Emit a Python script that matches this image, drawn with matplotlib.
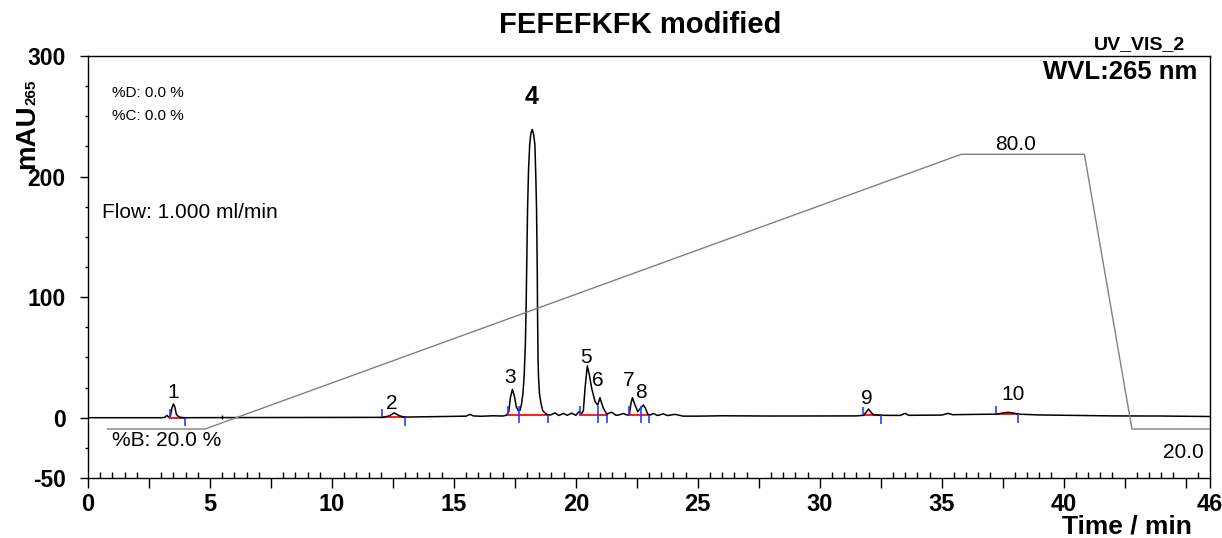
import matplotlib.pyplot as plt
import matplotlib.ticker as ticker

plt.rcParams['font.family'] = ['Liberation Sans', 'DejaVu Sans']

# chromatogram trace (time in min, signal in mAU)
time = [0.0, 3.0, 3.15, 3.24, 3.3, 3.38, 3.44, 3.5, 3.56, 3.62, 3.7, 3.8, 3.95,
        5.5, 10.0, 12.1, 12.35, 12.55, 12.75, 12.95, 14.0, 15.0, 15.5, 15.66, 15.8,
        16.1, 16.6, 17.0, 17.15, 17.25, 17.32, 17.4, 17.48, 17.56, 17.65, 17.71,
        17.78, 17.83, 17.88, 17.93, 17.96, 17.99, 18.02, 18.06, 18.11, 18.16, 18.21,
        18.26, 18.32, 18.36, 18.39, 18.42, 18.43, 18.45, 18.47, 18.51, 18.57, 18.64,
        18.71, 18.8, 18.95, 19.15, 19.3, 19.49, 19.65, 19.83, 20.0, 20.13, 20.25,
        20.31, 20.38, 20.47, 20.55, 20.65, 20.79, 20.9, 20.99, 21.06, 21.13, 21.27,
        21.47, 21.65, 21.8, 21.95, 22.1, 22.2, 22.26, 22.32, 22.4, 22.54, 22.65,
        22.77, 22.85, 22.95, 23.05, 23.18, 23.35, 23.59, 23.75, 24.07, 24.4, 25.0,
        26.0, 27.0, 28.0, 30.0, 31.5, 31.8, 31.9, 32.0, 32.1, 32.2, 32.5, 33.3,
        33.5, 33.65, 35.0, 35.27, 35.45, 36.5, 37.2, 37.5, 37.73, 37.95, 38.2,
        39.0, 40.4, 42.0, 44.0, 46.0]
signal = [0.0, 0.0, 0.3, 2.0, 0.5, 1.5, 8.0, 11.4, 9.0, 3.0, 1.0, 0.3, 0.0,
          0.1, 0.2, 0.3, 1.5, 4.0, 1.8, 0.5, 0.8, 1.0, 1.3, 2.8, 1.5,
          1.2, 1.6, 1.4, 2.0, 5.0, 17.0, 23.5, 18.0, 9.0, 5.6, 6.0,
          12.0, 20.0, 34.0, 60.0, 89.0, 130.0, 172.0, 205.0, 227.0, 236.0, 239.0,
          236.0, 227.0, 200.0, 172.0, 120.0, 89.0, 50.0, 34.0, 20.0, 12.0, 6.0,
          4.5, 2.8, 2.2, 4.0, 1.8, 3.5, 2.0, 3.8, 2.0, 5.0, 3.5,
          6.0, 25.0, 42.9, 36.0, 24.4, 13.3, 10.5, 16.6, 12.0, 7.8, 3.0,
          4.6, 2.0, 2.5, 3.5, 2.2, 3.0, 12.0, 16.6, 12.0, 5.0, 8.0,
          10.5, 8.0, 3.0, 2.2, 3.5, 1.8, 3.2, 1.8, 2.8, 1.3, 1.3,
          1.6, 1.5, 1.4, 1.5, 1.5, 2.0, 4.5, 7.2, 4.5, 2.5, 2.0, 1.9,
          3.6, 2.0, 2.2, 3.6, 2.5, 2.8, 2.9, 3.8, 4.5, 3.8, 2.9,
          2.3, 1.9, 1.5, 1.4, 1.0]

# gradient program (%B)
grad_time = [0.8, 4.8, 35.8, 40.85, 42.8, 46.0]
grad_pct = [20, 20, 80, 80, 20, 20]

# peak numbers and where their labels sit
peak_names = ['1', '2', '3', '4', '5', '6', '7', '8', '9', '10']
peak_label_time = [3.49, 12.46, 17.3, 18.2, 20.42, 20.91, 22.18, 22.67, 31.94, 37.92]
peak_label_y = [20.5, 12.0, 33.0, 266.0, 50.0, 30.5, 30.5, 21.0, 16.0, 19.6]

# integration windows: start, end and baseline level
int_start = [3.35, 12.05, 17.21, 17.67, 20.17, 20.90, 22.18, 22.66, 31.76, 37.22]
int_end = [3.96, 12.98, 17.67, 18.85, 20.90, 21.27, 22.66, 23.0, 32.53, 38.14]
int_base = [0.0, 0.5, 2.5, 2.5, 2.5, 2.5, 2.5, 2.5, 2.0, 2.8]

W, H = 1222, 538
fig = plt.figure(figsize=(W / 100, H / 100), dpi=100)
ax = fig.add_axes([88 / W, 60 / H, 1122 / W, 422 / H])

# gradient on its own hidden scale
ax2 = ax.twinx()
ax2.plot(grad_time, grad_pct, color='#808080', lw=1)
ax2.set_ylim(9.3, 101.47)
ax2.axis('off')

ax.plot(time, signal, color='black', lw=1.1, zorder=3)
ax.vlines(5.5, -1, 2, color='black', lw=1)

# integration baselines and delimiters
for s, e, b in zip(int_start, int_end, int_base):
    ax.plot([s, e], [b, b], color='#ff2020', lw=1.5, zorder=2)
    ax.vlines(s, b, b + 7, color='#2040ff', lw=1.2, zorder=4)
    ax.vlines(e, b - 7, b, color='#2040ff', lw=1.2, zorder=4)

for name, t, y in zip(peak_names, peak_label_time, peak_label_y):
    if name == '4':
        ax.text(t, y, name, fontsize=18, fontweight='bold', ha='center', va='center')
    else:
        ax.text(t, y, name, fontsize=15, ha='center', va='center')

ax.set_xlim(0, 46)
ax.set_ylim(-50, 300)

xt = [i * 2.5 for i in range(19)] + [46]
xl = [str(int(v)) if (v % 5 == 0 and v < 45) or v == 46 else '' for v in xt]
ax.set_xticks(xt)
ax.set_xticklabels(xl, fontweight='bold')
ax.xaxis.set_minor_locator(ticker.MultipleLocator(0.5))
ax.tick_params(axis='x', which='major', direction='out', length=7, width=1,
               pad=4, labelsize=17)
ax.tick_params(axis='x', which='minor', direction='in', length=4, width=1)

ax.set_yticks([-50, 0, 100, 200, 300])
ax.set_yticklabels(['-50', '0', '100', '200', '300'], fontweight='bold')
ax.set_yticks([-25, 25, 50, 75, 125, 150, 175, 225, 250, 275], minor=True)
ax.tick_params(axis='y', which='major', direction='out', length=6, width=1,
               pad=10, labelsize=16.5)
ax.tick_params(axis='y', which='minor', direction='out', length=2, width=1)

for sp in ax.spines.values():
    sp.set_linewidth(1)


def px(x, y):
    return x / W, 1 - y / H


# texts
fig.text(*px(640, 25), 'FEFEFKFK modified', fontsize=21, fontweight='bold',
         ha='center', va='center')
fig.text(*px(1185, 45), 'UV_VIS_2', fontsize=14, fontweight='bold',
         ha='right', va='center')
fig.text(*px(1197, 72), 'WVL:265 nm', fontsize=18.5, fontweight='bold',
         ha='right', va='center')
fig.text(*px(27, 137), 'mAU', fontsize=20, fontweight='bold', rotation=90,
         ha='center', va='center')
fig.text(*px(32, 92), '265', fontsize=11, fontweight='bold', rotation=90,
         ha='center', va='center')
fig.text(*px(112, 93), '%D: 0.0 %', fontsize=11, ha='left', va='center')
fig.text(*px(112, 116), '%C: 0.0 %', fontsize=11, ha='left', va='center')
fig.text(*px(102, 213), 'Flow: 1.000 ml/min', fontsize=15, ha='left', va='center')
fig.text(*px(112, 441), '%B: 20.0 %', fontsize=15, ha='left', va='center')
fig.text(*px(1016, 145), '80.0', fontsize=15, ha='center', va='center')
fig.text(*px(1204, 452), '20.0', fontsize=15, ha='right', va='center')
fig.text(*px(1192, 526), 'Time / min', fontsize=19, fontweight='bold',
         ha='right', va='center')

fig.savefig('out.png', dpi=100)
